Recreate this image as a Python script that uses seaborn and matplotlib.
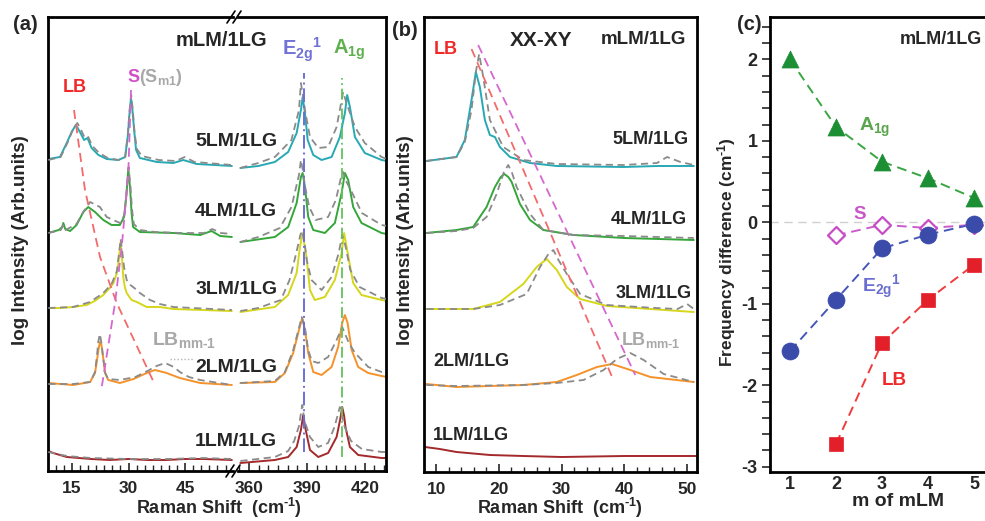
import numpy as np
import matplotlib
matplotlib.use('Agg')
import matplotlib.pyplot as plt
import seaborn as sns
from matplotlib.ticker import FixedLocator, MultipleLocator
from matplotlib.lines import Line2D

# ---------------- Panel (a): spectra (log intensity, arb. units, offset) ----------------
# solid = measured mLM/1LG, dashed gray = reference
A5_x = [8.7, 11.8, 13.6, 14.9, 16.0, 17.1, 18.2, 19.1, 20.2, 22.0, 24.2, 27.3, 29.1, 29.8, 30.3, 30.65, 31.0, 31.5, 32.0, 33.0, 37.5, 41.9, 44.5, 48.1, 57.4,
        355.5, 364.8, 373.4, 380.3, 384.7, 386.9, 387.8, 389.0, 390.4, 393.3, 397.6, 402.8, 407.1, 409.7, 410.9, 412.3, 414.9, 420.0, 428.7, 431.5]
A5_y = [312, 314, 328, 339, 346, 339, 331, 333, 323, 316, 312, 311, 314, 335, 360, 373, 362, 340, 321, 313, 309, 308, 311, 307, 305,
        303, 305, 309, 319, 338, 361, 374, 358, 331, 316, 311, 314, 334, 358, 376, 364, 334, 318, 311, 310]
A5d_x = [8.7, 12.0, 14.0, 15.2, 16.4, 17.4, 18.4, 19.3, 20.4, 22.2, 24.5, 27.3, 29.1, 29.8, 30.3, 30.7, 31.1, 31.6, 32.2, 33.5, 38.0, 42.5, 44.9, 47.5, 57.4,
         355.5, 364.8, 373.4, 382.0, 385.9, 386.9, 388.0, 389.0, 391.6, 395.9, 401.0, 405.4, 408.8, 410.5, 414.9, 420.0, 428.7, 431.5]
A5d_y = [311, 314, 330, 341, 348, 341, 333, 334, 325, 318, 313, 311, 314, 337, 362, 376, 362, 338, 322, 315, 311, 310, 314, 309, 306,
         303, 308, 314, 331, 361, 388, 375, 361, 334, 323, 324, 344, 379, 368, 344, 328, 314, 312]

A4_x = [8.7, 11.5, 12.4, 12.7, 13.2, 14.5, 16.2, 18.0, 19.3, 21.1, 23.3, 25.5, 27.7, 28.8, 29.4, 29.93, 30.4, 30.8, 31.2, 33.0, 41.9, 49.0, 52.0, 54.3, 57.4,
        355.5, 373.4, 380.3, 384.7, 386.9, 387.8, 389.0, 390.7, 393.3, 399.3, 404.5, 408.0, 409.7, 411.4, 414.0, 418.3, 428.7, 431.5]
A4_y = [238, 241, 244, 248, 242, 240, 246, 259, 264, 259, 251, 246, 246, 254, 275, 302, 283, 258, 244, 239, 238, 236, 240, 235, 234,
        229, 234, 244, 268, 294, 298, 284, 254, 241, 238, 248, 278, 298, 291, 264, 248, 238, 237]
A4d_x = [8.7, 12.0, 12.7, 13.3, 16.2, 18.0, 19.8, 22.4, 24.2, 27.7, 28.9, 29.5, 30.0, 30.5, 30.9, 31.4, 33.0, 37.0, 44.0, 50.0, 52.2, 54.5, 57.4,
         355.5, 364.8, 376.0, 382.0, 385.9, 386.9, 388.0, 389.0, 391.2, 394.5, 401.0, 405.0, 407.5, 408.8, 410.3, 413.5, 418.5, 428.7, 431.5]
A4d_y = [238, 241, 246, 241, 247, 259, 269, 264, 254, 248, 256, 280, 304, 285, 262, 247, 241, 239, 238, 238, 242, 238, 237,
         229, 234, 243, 264, 296, 311, 300, 285, 264, 251, 254, 271, 292, 299, 290, 278, 258, 246, 245]

A3_x = [8.7, 11.8, 15.3, 18.9, 21.0, 23.3, 25.0, 26.0, 26.9, 27.3, 27.9, 28.3, 28.6, 29.0, 29.5, 30.8, 32.2, 34.8, 38.3, 41.9, 57.4,
        355.5, 373.4, 380.3, 384.7, 386.4, 387.8, 389.8, 391.6, 394.1, 399.3, 404.5, 408.0, 409.3, 411.8, 414.0, 418.3, 428.7, 431.5]
A3_y = [163, 163, 164, 166, 170, 176, 183, 188, 198, 208, 229, 210, 194, 184, 178, 171, 169, 164, 164, 162, 160,
        159, 164, 176, 198, 224, 238, 214, 181, 171, 174, 191, 218, 238, 211, 188, 176, 171, 170]
A3d_x = [8.7, 15.3, 19.8, 23.3, 25.5, 26.9, 27.6, 27.9, 28.3, 28.8, 29.5, 30.5, 32.2, 33.0, 35.7, 38.3, 41.9, 57.4,
         355.5, 364.8, 376.5, 381.0, 384.5, 386.6, 387.5, 388.7, 390.0, 392.4, 397.6, 402.8, 406.5, 408.3, 410.0, 412.5, 417.3, 428.7, 431.5]
A3d_y = [163, 164, 169, 178, 187, 200, 222, 232, 220, 204, 191, 186, 181, 178, 171, 167, 164, 161,
         160, 163, 171, 191, 218, 236, 240, 230, 210, 191, 181, 194, 218, 236, 225, 201, 184, 173, 172]

A2_x = [8.7, 15.3, 19.8, 21.1, 21.6, 22.0, 22.4, 22.8, 23.1, 23.8, 24.6, 27.7, 31.3, 34.8, 37.0, 40.1, 43.6, 49.0, 57.4,
        355.5, 373.4, 378.6, 382.9, 385.9, 387.6, 389.0, 390.7, 393.3, 397.6, 402.8, 406.2, 408.3, 409.7, 411.1, 413.2, 416.6, 421.8, 428.7, 431.5]
A2_y = [88, 86, 89, 98, 110, 121, 129, 126, 118, 98, 91, 88, 92, 98, 101, 98, 93, 88, 86,
        88, 89, 98, 118, 141, 153, 141, 118, 99, 96, 104, 124, 148, 156, 148, 121, 104, 98, 95, 94]
A2d_x = [8.7, 15.3, 19.8, 21.1, 21.6, 22.0, 22.4, 22.8, 23.2, 23.8, 24.6, 27.7, 31.8, 35.0, 37.4, 39.7, 42.0, 43.6, 46.0, 49.0, 57.4,
         355.5, 373.4, 378.6, 382.9, 385.9, 387.3, 389.0, 390.7, 392.5, 395.9, 401.0, 405.4, 408.3, 410.0, 412.0, 415.0, 421.8, 428.7, 431.5]
A2d_y = [87, 87, 89, 99, 115, 130, 137, 128, 115, 98, 92, 91, 94, 100, 105, 108, 104, 99, 94, 91, 86,
         88, 90, 99, 121, 143, 154, 143, 121, 110, 108, 114, 131, 144, 136, 127, 118, 104, 99, 98]

A1_x = [8.7, 10.0, 13.6, 20.0, 25.0, 30.0, 35.0, 40.0, 45.0, 50.0, 57.4,
        355.5, 373.4, 380.3, 384.7, 386.9, 388.1, 389.4, 391.6, 395.9, 401.0, 405.4, 407.3, 408.3, 409.3, 410.0, 412.3, 416.6, 428.7, 431.5]
A1_y = [20, 18, 14, 12, 11, 12, 11, 11, 12, 12, 11,
        8, 11, 14, 24, 41, 56, 41, 21, 14, 18, 34, 52, 64, 55, 44, 24, 16, 13, 13]
A1d_x = [8.7, 13.6, 20.0, 30.0, 40.0, 50.0, 57.4,
         355.5, 373.4, 380.3, 383.4, 385.9, 387.6, 388.8, 391.6, 395.9, 401.0, 404.3, 407.1, 409.6, 412.9, 418.5, 428.7, 431.5]
A1d_y = [19, 15, 13, 12, 12, 13, 12,
         10, 14, 20, 30, 45, 66, 50, 34, 24, 28, 44, 64, 44, 30, 22, 19, 19]

# guide lines in (a)
A_LB_guide_x = [15.53, 18.45, 22.43, 26.86, 37.02]
A_LB_guide_y = [361, 281, 214, 168, 86]
A_S_guide_x = [30.65, 29.93, 28.18, 26.41, 22.88]
A_S_guide_y = [381, 298, 224, 168, 84]
A_E2g_pos = 388.3
A_A1g_pos = 408.4

# ---------------- Panel (b): XX-XY low-frequency spectra ----------------
B5_x = [8.43, 13.23, 14.56, 15.63, 16.32, 16.96, 17.76, 18.56, 19.36, 20.16, 21.76, 24.96, 29.23, 39.89, 45.23, 51.09]
B5_y = [311, 315, 332, 372, 400, 385, 352, 337, 335, 325, 315, 309, 306, 305, 306, 306]
B5d_x = [8.43, 13.23, 14.56, 15.63, 16.32, 16.85, 17.5, 18.56, 20.69, 23.89, 29.23, 39.89, 45.23, 46.83, 48.96, 51.09]
B5d_y = [311, 315, 330, 362, 400, 418, 395, 352, 325, 312, 308, 307, 309, 315, 310, 307]
B4_x = [8.43, 13.23, 15.89, 18.03, 19.36, 20.3, 20.85, 21.5, 22.03, 23.36, 24.96, 27.09, 31.89, 40.0, 51.09]
B4_y = [239, 242, 245, 265, 285, 295, 298, 295, 290, 268, 252, 242, 237, 234, 232]
B4d_x = [8.43, 13.23, 15.89, 18.03, 19.63, 20.8, 21.49, 22.1, 22.83, 24.96, 27.09, 31.89, 40.0, 51.09]
B4d_y = [239, 241, 244, 255, 278, 300, 307, 299, 285, 258, 242, 237, 236, 234]
B3_x = [8.43, 15.89, 20.16, 23.89, 26.03, 27.63, 29.23, 30.83, 32.96, 37.23, 51.09]
B3_y = [163, 163, 170, 188, 205, 213, 202, 185, 173, 166, 160]
B3d_x = [8.43, 15.89, 20.16, 24.43, 26.56, 27.9, 28.69, 29.5, 30.83, 32.96, 37.23, 45.0, 48.5, 50.03, 51.09]
B3d_y = [163, 163, 167, 178, 205, 218, 222, 212, 198, 178, 167, 164, 163, 168, 163]
B2_x = [8.43, 13.23, 23.89, 29.23, 32.43, 35.63, 38.03, 40.96, 44.16, 51.09]
B2_y = [88, 85, 87, 90, 97, 105, 108, 102, 95, 90]
B2d_x = [8.43, 13.23, 23.89, 29.23, 33.49, 36.69, 38.83, 40.96, 43.09, 46.29, 51.09]
B2d_y = [87, 86, 87, 89, 92, 102, 113, 119, 112, 98, 90]
B1_x = [8.2, 10.56, 13.23, 18.56, 23.89, 30.0, 40.0, 46.0, 51.5]
B1_y = [25, 23, 20, 17, 16, 15, 16, 16, 16]
B_LB_guide_x = [15.63, 38.19]
B_LB_guide_y = [423, 93]
B_S_guide_x = [16.69, 41.76]
B_S_guide_y = [427, 97]

# ---------------- Panel (c): frequency difference vs m ----------------
m_all = [1, 2, 3, 4, 5]
m_from2 = [2, 3, 4, 5]
A1g_diff = [2.0, 1.17, 0.745, 0.54, 0.30]
E2g_diff = [-1.58, -0.95, -0.32, -0.15, -0.02]
S_diff = [-0.16, -0.03, -0.07, -0.03]
LB_diff = [-2.72, -1.48, -0.95, -0.52]

spec_labels = ['5LM/1LG', '4LM/1LG', '3LM/1LG', '2LM/1LG', '1LM/1LG']
spec_colors = ['#27a9b4', '#34a63a', '#d6d61c', '#f5922a', '#a3292b']

# ---------------- style ----------------
sns.set_style('white')
plt.rcParams['font.family'] = ['Liberation Sans', 'DejaVu Sans']
plt.rcParams['font.weight'] = 'bold'
plt.rcParams['axes.labelweight'] = 'bold'
plt.rcParams['axes.unicode_minus'] = False
plt.rcParams['mathtext.fontset'] = 'custom'
plt.rcParams['mathtext.rm'] = 'Liberation Sans:bold'
plt.rcParams['mathtext.bf'] = 'Liberation Sans:bold'
plt.rcParams['mathtext.it'] = 'Liberation Sans:bold'

W, H = 985, 521
fig = plt.figure(figsize=(W / 100, H / 100), dpi=100)


def rect(l, t, r, b):
    return [l / W, 1 - b / H, (r - l) / W, (b - t) / H]


def fx(px):
    return px / W


def fy(py):
    return 1 - py / H


ax_a1 = fig.add_axes(rect(48, 17, 233, 471))
ax_a2 = fig.add_axes(rect(238, 17, 386, 471))
ax_b = fig.add_axes(rect(424, 17, 697, 472))
ax_c = fig.add_axes(rect(770, 17, 1000, 472))
for ax in (ax_a1, ax_a2):
    ax.patch.set_alpha(0.0)

GRAY = '#8a8a8a'


def line(ax, x, y, color, lw=1.3, dashes=None, zorder=2):
    sns.lineplot(x=x, y=y, ax=ax, color=color, linewidth=lw, sort=False,
                 estimator=None, legend=False, zorder=zorder)
    ln = ax.lines[-1]
    if dashes is not None:
        ln.set_dashes(dashes)
    return ln


# ---- panel (a) ----
a_solid = [(A5_x, A5_y), (A4_x, A4_y), (A3_x, A3_y), (A2_x, A2_y), (A1_x, A1_y)]
a_dash = [(A5d_x, A5d_y), (A4d_x, A4d_y), (A3d_x, A3d_y), (A2d_x, A2d_y), (A1d_x, A1d_y)]
for (xs, ys), (xd, yd), col in zip(a_solid, a_dash, spec_colors):
    xs, ys, xd, yd = map(np.asarray, (xs, ys, xd, yd))
    for ax, sel in ((ax_a1, lambda v: v < 100), (ax_a2, lambda v: v > 300)):
        ms, md = sel(xs), sel(xd)
        line(ax, xs[ms], ys[ms], col, lw=1.4, zorder=2)
        line(ax, xd[md], yd[md], GRAY, lw=1.3, dashes=[4, 2.5], zorder=3)

line(ax_a1, A_LB_guide_x, A_LB_guide_y, '#f26a6a', lw=1.3, dashes=[5, 3], zorder=4)
line(ax_a1, A_S_guide_x, A_S_guide_y, '#d667cf', lw=1.3, dashes=[5, 3], zorder=4)
line(ax_a1, [41.0, 47.1], [112, 112], '#b5b5b5', lw=1.0, dashes=[1, 1.5], zorder=4)
line(ax_a2, [A_E2g_pos, A_E2g_pos], [19, 398], '#6d6fd4', lw=1.4, dashes=[7, 2, 1, 2], zorder=4)
line(ax_a2, [A_A1g_pos, A_A1g_pos], [14, 393], '#62c25a', lw=1.3, dashes=[6, 2, 1, 2], zorder=4)

ax_a1.set_xlim(8.63, 57.7)
ax_a2.set_xlim(354.3, 431.0)
for ax in (ax_a1, ax_a2):
    ax.set_ylim(0, 454)
    ax.set_yticks([])
    ax.set_xlabel('')
    ax.set_ylabel('')
    for s in ax.spines.values():
        s.set_linewidth(2.0)
        s.set_color('black')
    ax.tick_params(axis='x', which='major', direction='in', length=6, width=1.2,
                   labelsize=12.5, pad=7, bottom=True, top=False)
    ax.tick_params(axis='x', which='minor', direction='in', length=4, width=1.0,
                   bottom=True, top=False)
ax_a1.spines['right'].set_visible(False)
ax_a2.spines['left'].set_visible(False)
ax_a1.set_xticks([15, 30, 45])
ax_a1.xaxis.set_minor_locator(FixedLocator(15 + (15 / 7) * np.arange(-3, 21)))
ax_a2.set_xticks([360, 390, 420])
ax_a2.xaxis.set_minor_locator(MultipleLocator(5))
for ax in (ax_a1, ax_a2):
    for lab in ax.get_xticklabels():
        lab.set_fontweight('bold')

# break marks
for (x0, y0, x1, y1) in [(226, 477, 234, 465), (232, 477, 240, 465), (227, 23, 235, 11), (233, 23, 241, 11)]:
    fig.add_artist(Line2D([fx(x0), fx(x1)], [fy(y0), fy(y1)], color='black', lw=1.2))

# texts (a)
for lab, v in zip(spec_labels, [330, 259, 181, 104, 29]):
    ax_a2.text(374.6, v, lab, ha='right', va='center', fontsize=14, fontweight='bold', zorder=6)
fig.text(fx(221), fy(40), 'mLM/1LG', ha='center', va='center', fontsize=14.5, fontweight='bold')
ax_a1.text(15.8, 384, 'LB', ha='center', va='center', fontsize=13, color='#f02828', fontweight='bold')
ax_a1.text(29.7, 394, 'S', ha='left', va='center', fontsize=13, color='#d050c8', fontweight='bold')
ax_a1.text(32.8, 394, r'(S$_{\mathbf{m1}}$)', ha='left', va='center', fontsize=13, color='#a8a8a8', fontweight='bold')
ax_a1.text(36.1, 131, r'LB$_{\mathbf{mm\text{-}1}}$', ha='left', va='center', fontsize=14, color='#a8a8a8', fontweight='bold')
ax_a2.text(387.3, 421, r'E$_{\mathbf{2g}}$$^{\mathbf{1}}$', ha='center', va='center', fontsize=14.5, color='#7072d6', fontweight='bold')
ax_a2.text(411.8, 421, r'A$_{\mathbf{1g}}$', ha='center', va='center', fontsize=14.5, color='#5fb04f', fontweight='bold')

# ---- panel (b) ----
b_solid = [(B5_x, B5_y), (B4_x, B4_y), (B3_x, B3_y), (B2_x, B2_y), (B1_x, B1_y)]
b_dash = [(B5d_x, B5d_y), (B4d_x, B4d_y), (B3d_x, B3d_y), (B2d_x, B2d_y)]
for (xs, ys), col in zip(b_solid, spec_colors):
    line(ax_b, xs, ys, col, lw=1.4, zorder=2)
for (xd, yd) in b_dash:
    line(ax_b, xd, yd, GRAY, lw=1.3, dashes=[4, 2.5], zorder=3)
line(ax_b, B_LB_guide_x, B_LB_guide_y, '#f26a6a', lw=1.3, dashes=[5, 3], zorder=4)
line(ax_b, B_S_guide_x, B_S_guide_y, '#d667cf', lw=1.3, dashes=[5, 3], zorder=4)

ax_b.set_xlim(8.05, 51.6)
ax_b.set_ylim(0, 455)
ax_b.set_yticks([])
ax_b.set_xlabel('')
ax_b.set_ylabel('')
ax_b.set_xticks([10, 20, 30, 40, 50])
ax_b.xaxis.set_minor_locator(MultipleLocator(2))
ax_b.tick_params(axis='x', which='major', direction='in', length=6, width=1.2,
                 labelsize=12.5, pad=7, bottom=True, top=False)
ax_b.tick_params(axis='x', which='minor', direction='in', length=3.5, width=1.0, bottom=True, top=False)
for lab in ax_b.get_xticklabels():
    lab.set_fontweight('bold')
for s in ax_b.spines.values():
    s.set_linewidth(2.0)
    s.set_color('black')

ax_b.text(50.3, 332, spec_labels[0], ha='right', va='center', fontsize=13, fontweight='bold')
ax_b.text(50.0, 253, spec_labels[1], ha='right', va='center', fontsize=13, fontweight='bold')
ax_b.text(50.8, 179, spec_labels[2], ha='right', va='center', fontsize=13, fontweight='bold')
ax_b.text(9.5, 110, spec_labels[3], ha='left', va='center', fontsize=13, fontweight='bold')
ax_b.text(9.5, 37, spec_labels[4], ha='left', va='center', fontsize=13, fontweight='bold')
ax_b.text(11.5, 422, 'LB', ha='center', va='center', fontsize=13, color='#f02828', fontweight='bold')
ax_b.text(26.7, 432, 'XX-XY', ha='center', va='center', fontsize=15, fontweight='bold')
ax_b.text(43.0, 433, 'mLM/1LG', ha='center', va='center', fontsize=13.5, fontweight='bold')
ax_b.text(39.4, 132, r'LB$_{\mathbf{mm\text{-}1}}$', ha='left', va='center', fontsize=13, color='#a8a8a8', fontweight='bold')

# ---- panel (c) ----
ax_c.axhline(0, color='#d0d0d0', lw=1.0, ls=(0, (6, 4)), zorder=1)
line(ax_c, m_all, A1g_diff, '#3aa543', lw=1.4, dashes=[5, 3], zorder=2)
line(ax_c, m_from2, S_diff, '#cc5ccc', lw=1.4, dashes=[5, 3], zorder=2)
line(ax_c, m_all, E2g_diff, '#4657b8', lw=1.4, dashes=[5, 3], zorder=2)
line(ax_c, m_from2, LB_diff, '#f03c3c', lw=1.4, dashes=[5, 3], zorder=2)
sns.scatterplot(x=m_from2, y=S_diff, ax=ax_c, marker='D', s=75, facecolor='white',
                edgecolor='#c84cc8', linewidth=1.6, zorder=3, legend=False)
sns.scatterplot(x=m_all, y=A1g_diff, ax=ax_c, marker='^', s=150, color='#1c8f34',
                edgecolor='#1c8f34', linewidth=0.5, zorder=4, legend=False)
sns.scatterplot(x=m_all, y=E2g_diff, ax=ax_c, marker='o', s=150, color='#3a4ba9',
                edgecolor='#3a4ba9', linewidth=0.5, zorder=4, legend=False)
sns.scatterplot(x=m_from2, y=LB_diff, ax=ax_c, marker='s', s=110, color='#e3202a',
                edgecolor='#e3202a', linewidth=0.5, zorder=4, legend=False)

ax_c.set_xlim(0.565, 5.565)
ax_c.set_ylim(-3.064, 2.52)
ax_c.set_xlabel('')
ax_c.set_ylabel('')
ax_c.set_xticks([1, 2, 3, 4, 5])
ax_c.set_yticks([-3, -2, -1, 0, 1, 2])
ax_c.yaxis.set_minor_locator(MultipleLocator(0.2))
ax_c.tick_params(axis='y', which='both', direction='out', length=6, width=1.2,
                 labelsize=13, pad=3, left=True, right=False)
ax_c.tick_params(axis='x', which='both', length=0, labelsize=13, pad=3)
for lab in ax_c.get_xticklabels() + ax_c.get_yticklabels():
    lab.set_fontweight('bold')
for s in ax_c.spines.values():
    s.set_linewidth(2.0)
    s.set_color('black')

ax_c.text(4.28, 2.25, 'mLM/1LG', ha='center', va='center', fontsize=13, fontweight='bold')
ax_c.text(2.85, 1.17, r'A$_{\mathbf{1g}}$', ha='center', va='center', fontsize=14, color='#5aa54e', fontweight='bold')
ax_c.text(2.52, 0.1, 'S', ha='center', va='center', fontsize=13.5, color='#c858c8', fontweight='bold')
ax_c.text(3.0, -0.79, r'E$_{\mathbf{2g}}$$^{\mathbf{1}}$', ha='center', va='center', fontsize=14, color='#6a6ed0', fontweight='bold')
ax_c.text(3.26, -1.94, 'LB', ha='center', va='center', fontsize=13.5, color='#ee2a2a', fontweight='bold')

# ---- figure-level labels ----
fig.text(fx(25.5), fy(25), '(a)', ha='center', va='center', fontsize=14.5, fontweight='bold')
fig.text(fx(405), fy(31), '(b)', ha='center', va='center', fontsize=14.5, fontweight='bold')
fig.text(fx(749), fy(25), '(c)', ha='center', va='center', fontsize=14.5, fontweight='bold')
fig.text(fx(21), fy(240), 'log Intensity (Arb.units)', rotation=90, ha='center', va='center', fontsize=13.5, fontweight='bold')
fig.text(fx(405), fy(240), 'log Intensity (Arb.units)', rotation=90, ha='center', va='center', fontsize=13.5, fontweight='bold')
fig.text(fx(727), fy(252), r'Frequency difference (cm$^{\mathbf{\text{-}1}}$)', rotation=90, ha='center', va='center', fontsize=12.5, fontweight='bold')
fig.text(fx(219), fy(508), r'Raman Shift  (cm$^{\mathbf{\text{-}1}}$)', ha='center', va='center', fontsize=13, fontweight='bold')
fig.text(fx(560), fy(508), r'Raman Shift  (cm$^{\mathbf{\text{-}1}}$)', ha='center', va='center', fontsize=13, fontweight='bold')
fig.text(fx(898), fy(502), 'm of mLM', ha='center', va='center', fontsize=14, fontweight='bold')

fig.savefig('out.png', dpi=100)
